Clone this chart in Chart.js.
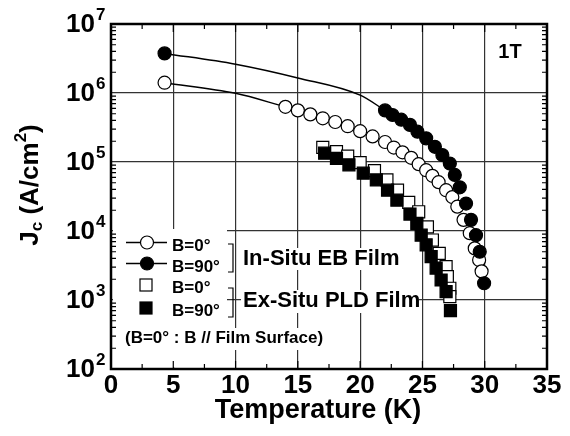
<!DOCTYPE html>
<html>
<head>
<meta charset="utf-8">
<script src="https://cdn.jsdelivr.net/npm/chart.js@4.4.1/dist/chart.umd.min.js"></script>
<style>
html, body { margin: 0; padding: 0; background: #fff; }
#wrap { width: 570px; height: 436px; }
</style>
</head>
<body>
<div id="wrap"><canvas id="grafico-jc" width="570" height="436"></canvas></div>
<script>
// In-Situ EB film, B=0 (open circles)
var tEbParalelo = [4.3, 14.0, 15.0, 16.0, 17.0, 18.0, 19.0, 20.0, 21.0, 22.0, 22.7, 23.4, 24.1, 24.7, 25.3, 25.8, 26.3, 26.9, 27.4, 27.8, 28.3, 28.8, 29.2, 29.55, 29.75];
var jcEbParalelo = [1.41e6, 6.3e5, 5.6e5, 4.9e5, 4.3e5, 3.8e5, 3.3e5, 2.8e5, 2.35e5, 1.95e5, 1.62e5, 1.38e5, 1.15e5, 9.3e4, 7.6e4, 6.3e4, 5.1e4, 3.9e4, 3.1e4, 2.25e4, 1.45e4, 9.3e3, 5.6e3, 3.8e3, 2.6e3];

// In-Situ EB film, B=90 (filled circles)
var tEbPerp = [4.3, 22.0, 22.6, 23.3, 24.0, 24.6, 25.3, 26.0, 26.6, 27.2, 27.6, 28.0, 28.5, 28.9, 29.3, 29.6, 29.95];
var jcEbPerp = [3.75e6, 5.6e5, 4.8e5, 4.1e5, 3.45e5, 2.75e5, 2.2e5, 1.66e5, 1.26e5, 9.5e4, 6.5e4, 4.3e4, 2.5e4, 1.45e4, 8.7e3, 5.0e3, 1.75e3];

// Ex-Situ PLD film, B=0 (open squares)
var tPldParalelo = [17.0, 18.1, 19.0, 20.0, 21.15, 22.15, 23.0, 23.9, 24.7, 25.4, 25.8, 26.35, 26.9, 27.0, 27.2, 27.2];
var jcPldParalelo = [1.63e5, 1.41e5, 1.22e5, 9.8e4, 7.5e4, 5.5e4, 3.9e4, 2.6e4, 1.9e4, 1.15e4, 7.4e3, 4.75e3, 3.04e3, 2.18e3, 1.48e3, 1.12e3];

// Ex-Situ PLD film, B=90 (filled squares)
var tPldPerp = [17.15, 18.1, 19.1, 20.25, 21.3, 22.2, 22.95, 24.0, 24.55, 24.9, 25.3, 25.7, 26.1, 26.5, 26.9, 27.25];
var jcPldPerp = [1.34e5, 1.13e5, 9.1e4, 6.9e4, 5.5e4, 3.9e4, 2.8e4, 1.76e4, 1.29e4, 8.7e3, 6.3e3, 4.25e3, 2.9e3, 1.95e3, 1.32e3, 7.0e2];

// guide curves drawn through the EB data
var tCurvaParalelo = [4.3, 10, 14.0];
var jcCurvaParalelo = [1.41e6, 9.9e5, 6.3e5];
var tCurvaPerp = [4.3, 10, 15, 20, 22.0];
var jcCurvaPerp = [3.75e6, 2.61e6, 1.65e6, 9.3e5, 5.6e5];

var decadas = [2, 3, 4, 5, 6, 7];
var ticksX = [0, 5, 10, 15, 20, 25, 30, 35];

var FAMILIA = '"Liberation Sans", Arial, sans-serif';
function fonte(tam) { return 'bold ' + tam + 'px ' + FAMILIA; }

function pontos(xs, ys) {
    return xs.map(function(x, i) { return { x: x, y: ys[i] }; });
}

function circulo(ctx, x, y, cheio) {
    ctx.beginPath();
    ctx.arc(x, y, 6.5, 0, Math.PI * 2);
    ctx.fillStyle = cheio ? '#000' : '#fff';
    ctx.fill();
    ctx.lineWidth = 1.2;
    ctx.strokeStyle = '#000';
    ctx.stroke();
}

function quadrado(ctx, x, y, cheio) {
    ctx.fillStyle = cheio ? '#000' : '#fff';
    ctx.fillRect(x - 6, y - 6, 12, 12);
    ctx.lineWidth = 1.2;
    ctx.strokeStyle = '#000';
    ctx.strokeRect(x - 6, y - 6, 12, 12);
}

var decoracao = {
    id: 'decoracao',
    beforeDatasetsDraw: function(chart) {
        var ctx = chart.ctx, a = chart.chartArea;
        ctx.save();
        ctx.fillStyle = '#fff';
        ctx.fillRect(a.left + 2, 229, 227 - a.left - 2, a.bottom - 2 - 229);
        ctx.fillRect(241, 248, 158, 22);
        ctx.fillRect(241, 290, 178, 23);
        ctx.fillRect(122, 328, 204, 22);
        ctx.restore();
    },
    afterDraw: function(chart) {
        var ctx = chart.ctx, a = chart.chartArea;
        var sx = chart.scales.x, sy = chart.scales.y;
        ctx.save();

        // frame and inner ticks
        ctx.strokeStyle = '#000';
        ctx.lineWidth = 2.5;
        ctx.strokeRect(a.left, a.top, a.right - a.left, a.bottom - a.top);
        ctx.lineWidth = 1.2;
        ctx.beginPath();
        for (var t = 2.5; t < 35; t += 2.5) {
            var px = sx.getPixelForValue(t);
            var len = (t % 5 === 0) ? 8 : 5;
            ctx.moveTo(px, a.bottom); ctx.lineTo(px, a.bottom - len);
            ctx.moveTo(px, a.top); ctx.lineTo(px, a.top + len);
        }
        for (var e = 2; e < 7; e++) {
            for (var m = 2; m < 10; m++) {
                var py = sy.getPixelForValue(m * Math.pow(10, e));
                ctx.moveTo(a.left, py); ctx.lineTo(a.left + 5, py);
                ctx.moveTo(a.right, py); ctx.lineTo(a.right - 5, py);
            }
        }
        ctx.stroke();

        // y tick labels 10^n
        ctx.fillStyle = '#000';
        ctx.textBaseline = 'middle';
        decadas.forEach(function(d) {
            var y = sy.getPixelForValue(Math.pow(10, d));
            ctx.font = fonte(26);
            ctx.textAlign = 'right';
            ctx.fillText('10', 95, y + 1);
            ctx.font = fonte(17);
            ctx.textAlign = 'left';
            ctx.fillText(String(d), 96, y - 9);
        });

        // y title Jc (A/cm2), rotated
        var partes = [['J', 26, 0], ['c', 17, 6], [' (A/cm', 26, 0], ['2', 17, -10], [')', 26, 0]];
        var total = 0;
        partes.forEach(function(p) { ctx.font = fonte(p[1]); total += ctx.measureText(p[0]).width; });
        ctx.translate(31, 185);
        ctx.rotate(-Math.PI / 2);
        var cx = -total / 2;
        ctx.textAlign = 'left';
        partes.forEach(function(p) {
            ctx.font = fonte(p[1]);
            ctx.fillText(p[0], cx, p[2]);
            cx += ctx.measureText(p[0]).width;
        });
        ctx.setTransform(1, 0, 0, 1, 0, 0);

        // x title
        ctx.font = fonte(27);
        ctx.textAlign = 'center';
        ctx.fillText('Temperature (K)', 318, 411);

        // field label
        ctx.font = fonte(20);
        ctx.fillText('1T', 510, 52);

        // legend
        ctx.lineWidth = 1.5;
        ctx.beginPath();
        ctx.moveTo(126, 242.5); ctx.lineTo(167, 242.5);
        ctx.moveTo(126, 263.5); ctx.lineTo(167, 263.5);
        ctx.stroke();
        circulo(ctx, 147, 242.5, false);
        circulo(ctx, 147, 263.5, true);
        quadrado(ctx, 146, 285, false);
        quadrado(ctx, 146, 308, true);

        ctx.fillStyle = '#000';
        ctx.font = fonte(17);
        ctx.textAlign = 'left';
        ctx.fillText('B=0\u00b0', 172, 246);
        ctx.fillText('B=90\u00b0', 172, 267);
        ctx.fillText('B=0\u00b0', 172, 288);
        ctx.fillText('B=90\u00b0', 172, 311);
        ctx.fillText('(B=0\u00b0 : B // Film Surface)', 125, 338);

        ctx.lineWidth = 1.2;
        ctx.beginPath();
        ctx.moveTo(228, 244); ctx.lineTo(233, 244); ctx.lineTo(233, 272); ctx.lineTo(228, 272);
        ctx.moveTo(228, 288); ctx.lineTo(233, 288); ctx.lineTo(233, 317); ctx.lineTo(228, 317);
        ctx.stroke();

        ctx.font = fonte(22);
        ctx.fillText('In-Situ EB Film', 243, 259);
        ctx.fillText('Ex-Situ PLD Film', 243, 301);
        ctx.restore();
    }
};

var corGrade = function(valido) {
    return function(c) { return (c.tick && valido(c.tick.value)) ? '#333' : 'rgba(0,0,0,0)'; };
};

var chartJc = new Chart(document.getElementById('grafico-jc').getContext('2d'), {
    type: 'scatter',
    data: {
        datasets: [
            { label: 'EB B=90', data: pontos(tEbPerp, jcEbPerp), order: 1,
              pointStyle: 'circle', pointRadius: 6.5, pointBackgroundColor: '#000', pointBorderColor: '#000', pointBorderWidth: 1.2 },
            { label: 'EB B=0', data: pontos(tEbParalelo, jcEbParalelo), order: 2,
              pointStyle: 'circle', pointRadius: 6.5, pointBackgroundColor: '#fff', pointBorderColor: '#000', pointBorderWidth: 1.2 },
            { label: 'PLD B=90', data: pontos(tPldPerp, jcPldPerp), order: 3,
              pointStyle: 'rect', pointRadius: 8.5, pointBackgroundColor: '#000', pointBorderColor: '#000', pointBorderWidth: 1.2 },
            { label: 'PLD B=0', data: pontos(tPldParalelo, jcPldParalelo), order: 4,
              pointStyle: 'rect', pointRadius: 8.5, pointBackgroundColor: '#fff', pointBorderColor: '#000', pointBorderWidth: 1.2 },
            { label: 'curva B=90', data: pontos(tCurvaPerp, jcCurvaPerp), order: 5, showLine: true,
              pointRadius: 0, borderColor: '#000', borderWidth: 1.5, cubicInterpolationMode: 'monotone' },
            { label: 'curva B=0', data: pontos(tCurvaParalelo, jcCurvaParalelo), order: 6, showLine: true,
              pointRadius: 0, borderColor: '#000', borderWidth: 1.5, cubicInterpolationMode: 'monotone' }
        ]
    },
    options: {
        responsive: false,
        animation: false,
        layout: { padding: { top: 24, right: 23, left: 0, bottom: 0 } },
        plugins: { legend: { display: false }, tooltip: { enabled: false } },
        scales: {
            x: {
                type: 'linear', min: 0, max: 35,
                border: { display: false },
                afterBuildTicks: function(s) { s.ticks = ticksX.map(function(v) { return { value: v }; }); },
                afterFit: function(s) { s.height = 67; s.paddingLeft = 0; s.paddingRight = 0; },
                ticks: { padding: 1, color: '#000', maxRotation: 0, autoSkip: false, font: { family: FAMILIA, size: 26, weight: 'bold' } },
                grid: { drawTicks: false, lineWidth: 1.2, color: corGrade(function(v) { return v > 0 && v < 35; }) }
            },
            y: {
                type: 'logarithmic', min: 100, max: 1e7,
                border: { display: false },
                afterBuildTicks: function(s) { s.ticks = decadas.map(function(d) { return { value: Math.pow(10, d) }; }); },
                afterFit: function(s) { s.width = 111; },
                ticks: { display: false },
                grid: { drawTicks: false, lineWidth: 1.2, color: corGrade(function(v) { return v > 100 && v < 1e7; }) }
            }
        }
    },
    plugins: [decoracao]
});
</script>
</body>
</html>
